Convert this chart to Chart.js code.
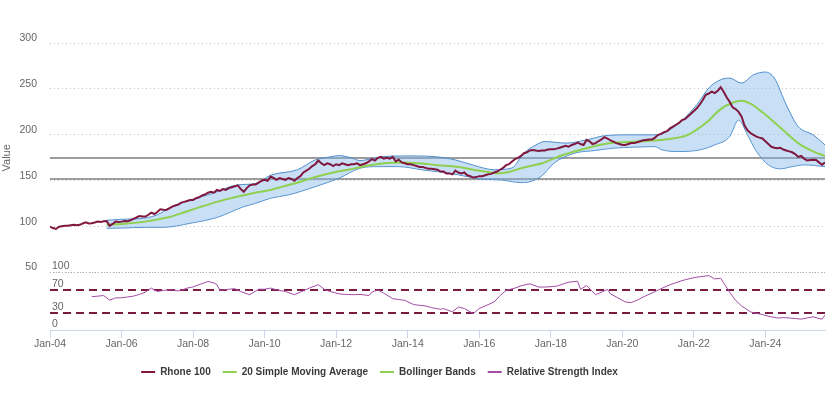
<!DOCTYPE html>
<html><head><meta charset="utf-8">
<script src="https://cdn.jsdelivr.net/npm/chart.js@4/dist/chart.umd.min.js"></script>
<style>html,body{margin:0;padding:0;background:#fff}</style>
</head><body>
<canvas id="c" width="834" height="396"></canvas>
<script>
// ---------- DATA ----------
const rhoneStart = '2004-01';
const rhone = [
  100, 98.5, 97.5, 100, 100.5, 101, 101, 101.5, 102, 101.5, 102, 103.5,
  104.8, 103.5, 103.7, 104.5, 105.5, 105, 106, 106.2, 101, 103, 105.5, 105,
  105.5, 106.2, 106, 107, 108.4, 110, 111.7, 111, 111, 113, 115.3, 113.8,
  116, 119, 118.5, 118.2, 120, 121.8, 123, 124, 126.2, 127, 128, 129,
  129, 131, 132, 134, 135, 137, 138, 137, 140, 139, 141, 140,
  142, 143, 144, 145, 141, 138, 142, 145, 146, 146, 148, 150,
  151, 150, 154.5, 153, 151, 153, 152, 151, 153, 152, 150, 153,
  155, 159, 161, 163, 166, 168, 172, 169, 167, 169, 168, 166,
  168, 167, 169, 168, 167, 168, 168, 169, 167, 168, 169, 171,
  173.5, 172, 175, 176, 174, 175, 174, 176, 171, 173, 170, 169,
  168, 168, 167, 166, 165, 165, 164, 163, 163, 162.5, 162, 160,
  160, 158, 158, 157, 161, 159, 158, 159, 156, 155, 153.5, 154,
  155, 155, 156, 157, 157.5, 159, 160, 162, 164, 167, 168, 171,
  173.5, 175, 177, 180, 181, 183, 183.6, 183, 182.5, 183, 183, 184,
  184.4, 184.4, 185, 186, 187, 188, 187, 189, 190, 191.6, 190, 189,
  194.5, 193, 190, 191, 193, 195, 197.5, 196, 194, 192.7, 191, 190,
  189, 189, 190, 191, 191, 192, 193, 194, 194.5, 195, 195, 197,
  200, 201, 203, 204, 207, 209, 211, 213, 216, 217, 220, 223,
  226, 229, 233, 238, 243.6, 245, 247, 245.5, 248, 252, 247, 241,
  236, 230, 228, 225, 220, 210, 205, 202, 200, 198, 197, 196,
  193, 190, 187, 186, 185.5, 186, 184, 183, 182, 181, 179, 176,
  177, 174, 172, 172.5, 173, 172.7, 170, 167.5, 170
];

const smaDates = ['2005-08','2006-01','2006-09','2007-05','2007-10','2008-03','2008-09','2009-03','2009-09','2010-03','2010-07','2011-01','2011-06','2011-12','2012-05','2012-11','2013-05','2013-11','2014-05','2014-11','2015-06','2015-11','2016-03','2016-07','2016-11','2017-03','2017-10','2018-05','2019-01','2019-09','2020-06','2021-02','2021-06','2021-11','2022-05','2022-10','2023-02','2023-05','2023-08','2024-01','2024-07','2024-12','2025-05','2025-09'];
const sma = [102,103,105.5,110.5,115.7,121,127,132,136.5,140,143.6,149,154,159,162,166,169,170,169,167,165,162,160,158,159.5,163.7,169,178,185.5,191,192.7,194.5,196,200,212.8,228,235,237,234,221.8,205,191,182,177];

const upperDates = ['2005-08','2006-01','2006-09','2007-01','2007-06','2007-12','2008-07','2009-04','2009-10','2010-03','2010-12','2011-06','2011-11','2012-02','2012-06','2012-09','2013-01','2013-05','2013-11','2014-04','2014-11','2015-05','2015-11','2016-06','2016-12','2017-04','2017-08','2017-11','2018-06','2019-01','2019-07','2020-03','2020-12','2021-03','2021-08','2022-02','2022-06','2022-10','2023-01','2023-05','2023-09','2024-01','2024-04','2024-08','2024-12','2025-05','2025-09'];
const upper = [107,108,109.5,113,122,129,135.7,145.5,147,156,162,172.7,176,177.4,175,172,174,176.3,177,177,176,172.7,167,162,164,180,189,192.7,191,194.5,199,200,200,202,212.8,232.7,251,260,261.8,256.4,265.4,268.4,261.8,232.7,209,200,189];

const lowerDates = ['2005-08','2006-01','2006-09','2007-03','2007-12','2008-09','2009-06','2009-10','2010-03','2010-09','2011-06','2012-02','2012-09','2013-03','2013-10','2014-06','2015-03','2015-09','2016-02','2016-08','2017-03','2017-06','2017-10','2018-02','2018-09','2019-04','2019-10','2020-05','2020-12','2021-02','2021-08','2022-03','2022-08','2023-01','2023-04','2023-07','2023-10','2024-02','2024-06','2024-10','2025-02','2025-09'];
const lower = [98.2,98.5,99.3,99.3,103.7,110,121.8,125.5,131,134.6,143.6,152.8,163.7,165.4,165.4,161.8,158.2,154.5,151.7,151,148,149,155.3,169,180,183,185.5,186.6,187.2,184,181.8,183.6,189,198,216,200,182,167.3,163,165.4,167.3,165.4];

const rsiDates = ['2005-03','2005-05','2005-07','2005-09','2005-11','2006-01','2006-03','2006-05','2006-07','2006-09','2006-11','2007-01','2007-03','2007-06','2007-08','2007-10','2007-11','2008-01','2008-03','2008-06','2008-08','2008-09','2008-10','2009-01','2009-03','2009-05','2009-08','2009-11','2010-01','2010-03','2010-05','2010-08','2010-11','2011-01','2011-04','2011-07','2011-09','2011-11','2012-02','2012-04','2012-07','2012-09','2012-12','2013-01','2013-03','2013-05','2013-08','2013-10','2013-12','2014-03','2014-05','2014-07','2014-09','2014-12','2015-01','2015-04','2015-06','2015-08','2015-11','2016-01','2016-03','2016-06','2016-08','2016-10','2017-01','2017-03','2017-06','2017-09','2017-12','2018-03','2018-05','2018-07','2018-10','2018-11','2019-01','2019-04','2019-06','2019-08','2019-09','2019-11','2020-02','2020-04','2020-06','2020-08','2020-12','2021-02','2021-05','2021-09','2021-12','2022-02','2022-06','2022-08','2022-10','2022-11','2023-01','2023-03','2023-05','2023-08','2023-10','2023-12','2024-02','2024-05','2024-07','2024-09','2024-11','2025-01','2025-03','2025-05','2025-07','2025-08','2025-09'];
const rsi = [58,59,60,52,56,56,57.5,59,62,66,73,67,69,70,68,71,73,75,79,84.5,82,79,69,71,72,67,61.5,71,71,73,70,67,61.5,66,73,79,71,67,63,62,61.5,62,60,66,70,64,54.6,53,51.7,44.3,43,42,39,36,37.4,31.6,40,37.4,28.7,37.4,42,48.8,60,69,73,77,80.5,74.7,75,76.4,80,83.3,85,70.7,77.6,61.5,66,70.7,63,57.5,48.8,47.7,52,57.5,67,72,78.8,86,90,92,94.8,89,90,82,66,51.7,42,31.6,29,27,24,21,21.5,21,20,19,21,23,20,19,26];

const tickDates = ['2004-01','2006-01','2008-01','2010-01','2012-01','2014-01','2016-01','2018-01','2020-01','2022-01','2024-01'];
const tickLabels = ['Jan-04','Jan-06','Jan-08','Jan-10','Jan-12','Jan-14','Jan-16','Jan-18','Jan-20','Jan-22','Jan-24'];
const rsiTicks = [0, 30, 70, 100];
const supportLevels = [152, 175];
const rsiLevels = [30, 70];

// ---------- HELPERS ----------
function monthIndex(s){ const p = s.split('-').map(Number); return (p[0]-2004)*12 + (p[1]-1); }
const pts = (dates, vals) => dates.map((d,i) => ({x: monthIndex(d), y: vals[i]}));
const r0 = monthIndex(rhoneStart);
const rhonePts = rhone.map((v,i) => ({x: r0 + i, y: v}));
const xMax = r0 + rhone.length - 1;

const FONT = "'Liberation Sans', Arial, sans-serif";

const levelPlugin = {
  id: 'levels',
  beforeDatasetsDraw(chart){
    const {ctx, chartArea, scales} = chart;
    ctx.save();
    ctx.strokeStyle = '#9d9d9d'; ctx.lineWidth = 2;
    supportLevels.forEach(v => {
      const p = Math.round(scales.y.getPixelForValue(v));
      ctx.beginPath(); ctx.moveTo(chartArea.left, p); ctx.lineTo(chartArea.right, p); ctx.stroke();
    });
    ctx.strokeStyle = '#7a1c42'; ctx.lineWidth = 2; ctx.setLineDash([8,5]);
    rsiLevels.forEach(v => {
      const p = Math.round(scales.y2.getPixelForValue(v));
      ctx.beginPath(); ctx.moveTo(chartArea.left, p); ctx.lineTo(chartArea.right, p); ctx.stroke();
    });
    ctx.restore();
  }
};

// shift the centred legend row a little to the left, as in the reference
const legendShift = {
  id: 'legendShift',
  afterLayout(chart){ if (chart.legend) { chart.legend.right -= 66; } }
};

new Chart(document.getElementById('c'), {
  type: 'line',
  data: {
    datasets: [
      {label: 'Rhone 100', data: rhonePts, borderColor: '#80173f', borderWidth: 2, pointRadius: 0, tension: 0, yAxisID: 'y', order: 0},
      {label: '20 Simple Moving Average', data: pts(smaDates, sma), borderColor: '#8fd050', borderWidth: 2, pointRadius: 0, cubicInterpolationMode: 'monotone', yAxisID: 'y', order: 1},
      {label: 'Bollinger Bands', data: pts(upperDates, upper), borderColor: '#4f8fcc', borderWidth: 1, pointRadius: 0, cubicInterpolationMode: 'monotone', fill: '+1', backgroundColor: 'rgba(124,178,232,0.42)', yAxisID: 'y', order: 2, legendColor: '#8fd050'},
      {label: '', data: pts(lowerDates, lower), borderColor: '#4f8fcc', borderWidth: 1, pointRadius: 0, cubicInterpolationMode: 'monotone', fill: false, yAxisID: 'y', order: 3},
      {label: 'Relative Strength Index', data: pts(rsiDates, rsi), borderColor: '#a24ca6', borderWidth: 1, pointRadius: 0, tension: 0, yAxisID: 'y2', order: 4}
    ]
  },
  options: {
    responsive: false,
    animation: false,
    devicePixelRatio: 1,
    layout: {padding: {top: 43, left: 0, right: 9, bottom: 9}},
    plugins: {
      tooltip: {enabled: false},
      legend: {
        position: 'bottom',
        labels: {
          usePointStyle: true, pointStyle: 'line', pointStyleWidth: 14,
          padding: 12, color: '#3a3a3a',
          font: {family: FONT, size: 10, weight: 'bold'},
          generateLabels(chart){
            const items = Chart.defaults.plugins.legend.labels.generateLabels(chart);
            return items.filter(it => chart.data.datasets[it.datasetIndex].label !== '').map(it => {
              const ds = chart.data.datasets[it.datasetIndex];
              if (ds.legendColor) it.strokeStyle = ds.legendColor;
              it.lineWidth = 2;
              return it;
            });
          }
        }
      }
    },
    scales: {
      x: {
        type: 'linear', min: r0, max: xMax,
        afterBuildTicks(s){ s.ticks = tickDates.map(d => ({value: monthIndex(d)})); },
        afterFit(s){ s.height = 25; },
        ticks: {color: '#666', font: {family: FONT, size: 10.5}, padding: 0, maxRotation: 0, autoSkip: false,
          callback(v){ const i = tickDates.findIndex(d => monthIndex(d) === v); return i >= 0 ? tickLabels[i] : ''; }},
        grid: {display: true, drawOnChartArea: false, drawTicks: true, tickLength: 8, color: '#ccd6eb'},
        border: {display: true, color: '#ccd6eb'}
      },
      y: {
        type: 'linear', position: 'left', stack: 'panes', stackWeight: 4, weight: 1,
        min: 50, max: 300,
        afterFit(s){ s.width = 50; },
        ticks: {stepSize: 50, color: '#666', font: {family: FONT, size: 10.5}, padding: 13, labelOffset: -5, autoSkip: false},
        grid: {color: '#c4c4c4', drawTicks: false, lineWidth: 1},
        border: {display: false, dash: [1, 3]},
        title: {display: true, text: 'Value', color: '#666', font: {family: FONT, size: 11}, padding: {top: 0, bottom: 0}}
      },
      y2: {
        type: 'linear', position: 'left', stack: 'panes', stackWeight: 1, weight: 0,
        min: 0, max: 100,
        afterFit(s){ s.width = 50; },
        afterBuildTicks(s){ s.ticks = rsiTicks.map(v => ({value: v})); },
        ticks: {mirror: true, color: '#666', font: {family: FONT, size: 10.5}, padding: 2, labelOffset: -6, autoSkip: false},
        grid: {display: true, drawTicks: false, lineWidth: 1,
          color: (c) => (c.tick && c.tick.value === 100) ? '#b0b0b0' : 'rgba(0,0,0,0)'},
        border: {display: false, dash: [1, 2]}
      }
    }
  },
  plugins: [levelPlugin, legendShift]
});
</script>
</body></html>
